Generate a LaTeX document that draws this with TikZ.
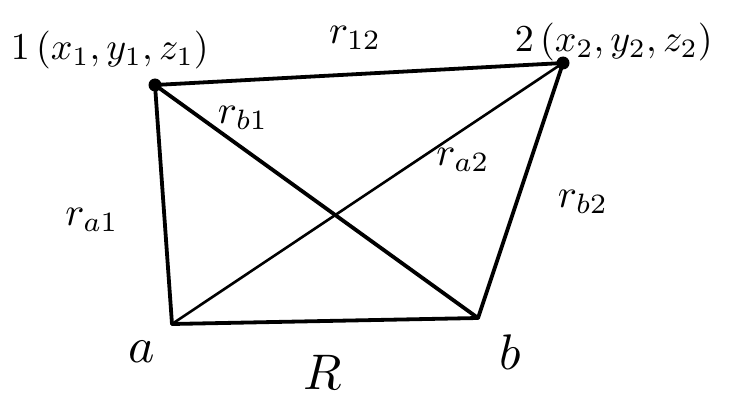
\documentclass[tikz,border=0pt]{standalone}
\begin{document}
\begin{tikzpicture}[x=1pt,y=-1pt,
  edge/.style={line width=3.8pt,line cap=round,line join=round},
  thinedge/.style={line width=2.6pt,line cap=round},
  lbl/.style={inner sep=0pt,scale=4},
  coordlbl/.style={inner sep=0pt,scale=3.8,anchor=west},
  biglbl/.style={inner sep=0pt,scale=5},
  dotn/.style={circle,fill=black,inner sep=0pt,minimum size=13pt}]
\useasboundingbox (0,0) rectangle (737,404);
\node[dotn] (p1) at (155,85) {};
\node[dotn] (p2) at (563,63) {};
\coordinate (a) at (172,324);
\coordinate (b) at (478,318);
\draw[edge] (p1.center) -- (p2.center);
\draw[edge] (p1.center) -- (a);
\draw[edge] (p1.center) -- (b);
\draw[edge] (p2.center) -- (b);
\draw[edge] (a) -- (b);
\draw[thinedge] (a) -- (p2.center);
\node[coordlbl] (l1) at (10,50) {$1\,(x_1, y_1, z_1)$};
\node[coordlbl] (l2) at (514,42) {$2\,(x_2, y_2, z_2)$};
\node[lbl] (r12) at (355,38) {$r_{12}$};
\node[lbl] (rb1) at (243,118) {$r_{b1}$};
\node[lbl] (ra2) at (463,160) {$r_{a2}$};
\node[lbl] (ra1) at (92,220) {$r_{a1}$};
\node[lbl] (rb2) at (583,202) {$r_{b2}$};
\node[biglbl] (la) at (142,352) {$a$};
\node[biglbl] (lR) at (323,372) {$R$};
\node[biglbl] (lb) at (510,352) {$b$};
\end{tikzpicture}
\end{document}
